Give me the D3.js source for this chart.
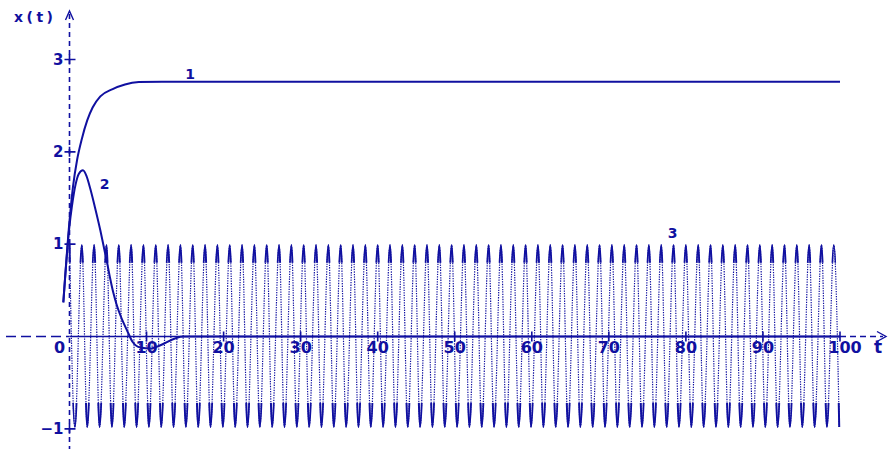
<!DOCTYPE html>
<html>
<head>
<meta charset="utf-8">
<script src="https://cdn.jsdelivr.net/npm/d3@7"></script>
<style>
  body { margin: 0; background: #fff; }
  svg { display: block; }
  text { font-family: 'DejaVu Sans', sans-serif; font-weight: bold; fill: #1010a0; }
</style>
</head>
<body>
<div id="chart"></div>
<script>
// curve 1
var t1 = [-0.8, 0, 0.45, 1.0, 1.6, 2.3, 3.0, 4.0, 5.6, 7.2, 9, 12, 100]
var x1 = [0.37, 1.25, 1.62, 1.92, 2.14, 2.34, 2.48, 2.6, 2.68, 2.73, 2.755, 2.76, 2.76]

// curve 2
var t2 = [-0.8, 0, 0.3, 0.8, 1.2, 1.75, 2.2, 2.7, 3.3, 4.0, 4.5, 4.9, 5.3, 5.7, 6.1, 6.6, 7.0, 7.5, 8.2, 9.2, 10.5, 11.0, 14.8, 100]
var x2 = [0.37, 1.2, 1.4, 1.65, 1.76, 1.8, 1.74, 1.6, 1.4, 1.15, 0.95, 0.79, 0.62, 0.47, 0.35, 0.23, 0.15, 0.06, -0.06, -0.12, -0.13, -0.12, 0, 0]

// curve 3: times of the maxima and minima
var peakT = [0, 1.6, 3.2, 4.8, 6.4, 8.0, 9.6, 11.2, 12.8, 14.4, 16.0, 17.6, 19.2, 20.8, 22.4, 24.0,
  25.6, 27.2, 28.8, 30.4, 32.0, 33.6, 35.2, 36.8, 38.4, 40.0, 41.6, 43.2, 44.8, 46.4, 48.0, 49.6,
  51.2, 52.8, 54.4, 56.0, 57.6, 59.2, 60.8, 62.4, 64.0, 65.6, 67.2, 68.8, 70.4, 72.0, 73.6, 75.2,
  76.8, 78.4, 80.0, 81.6, 83.2, 84.8, 86.4, 88.0, 89.6, 91.2, 92.8, 94.4, 96.0, 97.6, 99.2]
var troughT = [0.7, 2.3, 3.9, 5.5, 7.1, 8.7, 10.3, 11.9, 13.5, 15.1, 16.7, 18.3, 19.9, 21.5, 23.1,
  24.7, 26.3, 27.9, 29.5, 31.1, 32.7, 34.3, 35.9, 37.5, 39.1, 40.7, 42.3, 43.9, 45.5, 47.1, 48.7,
  50.3, 51.9, 53.5, 55.1, 56.7, 58.3, 59.9, 61.5, 63.1, 64.7, 66.3, 67.9, 69.5, 71.1, 72.7, 74.3,
  75.9, 77.5, 79.1, 80.7, 82.3, 83.9, 85.5, 87.1, 88.7, 90.3, 91.9, 93.5, 95.1, 96.7, 98.3, 99.9]
var peakVal = 0.99
var troughVal = -0.98

var xTicks = [0, 10, 20, 30, 40, 50, 60, 70, 80, 90, 100]
var yTicks = [-1, 1, 2, 3]

var width = 891
var height = 449
var color = '#1010a0'

var svg = d3.select('#chart')
  .append('svg')
  .attr('width', width)
  .attr('height', height)

var xScale = d3.scaleLinear().domain([0, 100]).range([69.5, 840])
var yScale = d3.scaleLinear().domain([0, 3]).range([336.5, 59.5])

var x0 = xScale(0)
var y0 = yScale(0)

// pair the arrays up
var curve1 = t1.map((t, i) => ({ t: t, v: x1[i] }))
var curve2 = t2.map((t, i) => ({ t: t, v: x2[i] }))
var curve3 = peakT.map(t => ({ t: t, v: peakVal }))
  .concat(troughT.map(t => ({ t: t, v: troughVal })))
  .sort((a, b) => a.t - b.t)

var line = d3.line()
  .x(d => xScale(d.t))
  .y(d => yScale(d.v))
  .curve(d3.curveMonotoneX)

// thick parts of curve 3 near its extremes
var clip = svg.append('clipPath').attr('id', 'ends')
clip.append('rect')
  .attr('x', 0).attr('width', width)
  .attr('y', yScale(1.02)).attr('height', yScale(0.8) - yScale(1.02))
clip.append('rect')
  .attr('x', 0).attr('width', width)
  .attr('y', yScale(-0.72)).attr('height', yScale(-1.02) - yScale(-0.72))

svg.append('path')
  .datum(curve3)
  .attr('d', line)
  .attr('fill', 'none')
  .attr('stroke', color)
  .attr('stroke-width', 1.2)
  .attr('stroke-dasharray', '1.3,1.2')

svg.append('path')
  .datum(curve3)
  .attr('d', line)
  .attr('fill', 'none')
  .attr('stroke', color)
  .attr('stroke-width', 2)
  .attr('clip-path', 'url(#ends)')

// axes
var axes = svg.append('g').attr('stroke', color).attr('fill', 'none')

axes.append('line')
  .attr('x1', x0).attr('x2', x0)
  .attr('y1', 14).attr('y2', height)
  .attr('stroke-width', 1.6)
  .attr('stroke-dasharray', '5,4')

axes.append('path')
  .attr('d', `M${x0 - 4},${20} L${x0},${11} L${x0 + 4},${20}`)
  .attr('stroke-width', 1.4)

axes.append('line')
  .attr('x1', 6).attr('x2', x0)
  .attr('y1', y0).attr('y2', y0)
  .attr('stroke-width', 1.6)
  .attr('stroke-dasharray', '10,5')

axes.append('line')
  .attr('x1', x0).attr('x2', xScale(100))
  .attr('y1', y0).attr('y2', y0)
  .attr('stroke-width', 1.6)

axes.append('line')
  .attr('x1', xScale(100)).attr('x2', 883)
  .attr('y1', y0).attr('y2', y0)
  .attr('stroke-width', 1.6)
  .attr('stroke-dasharray', '6,4')

axes.append('path')
  .attr('d', `M${877},${y0 - 5} L${886},${y0} L${877},${y0 + 5}`)
  .attr('stroke-width', 1.4)

axes.selectAll('.xtick')
  .data(xTicks.slice(1))
  .enter()
  .append('line')
  .attr('class', 'xtick')
  .attr('x1', d => xScale(d)).attr('x2', d => xScale(d))
  .attr('y1', y0 - 5).attr('y2', y0 + 5)
  .attr('stroke-width', 1.6)

axes.selectAll('.ytick')
  .data(yTicks)
  .enter()
  .append('path')
  .attr('class', 'ytick')
  .attr('d', d => `M${x0 - 5},${yScale(d)} H${x0 + 6} M${x0},${yScale(d) - 5} V${yScale(d) + 5}`)
  .attr('stroke-width', 1.6)

// curves 1 and 2
svg.append('path')
  .datum(curve2)
  .attr('d', line)
  .attr('fill', 'none')
  .attr('stroke', color)
  .attr('stroke-width', 2)

svg.append('path')
  .datum(curve1)
  .attr('d', line)
  .attr('fill', 'none')
  .attr('stroke', color)
  .attr('stroke-width', 2)

// tick labels
svg.selectAll('.xlabel')
  .data(xTicks)
  .enter()
  .append('text')
  .attr('class', 'xlabel')
  .text(d => d)
  .attr('x', d => d === 0 ? xScale(d) - 10 : d === 100 ? xScale(d) + 5 : xScale(d))
  .attr('y', 353)
  .attr('font-size', 16)
  .attr('text-anchor', 'middle')

svg.selectAll('.ylabel')
  .data(yTicks)
  .enter()
  .append('text')
  .attr('class', 'ylabel')
  .text(d => d === -1 ? '\u22121' : d)
  .attr('x', x0 - 6)
  .attr('y', d => yScale(d) + 5)
  .attr('font-size', 15)
  .attr('text-anchor', 'end')

// axis names
svg.append('text')
  .text('x(t)')
  .attr('x', 14)
  .attr('y', 22)
  .attr('font-size', 14)
  .attr('letter-spacing', 3.5)

svg.append('text')
  .text('t')
  .attr('x', 878)
  .attr('y', 353)
  .attr('font-size', 17)
  .attr('text-anchor', 'middle')

// curve numbers
svg.append('text').text('1').attr('x', 190).attr('y', 79).attr('font-size', 14).attr('text-anchor', 'middle')
svg.append('text').text('2').attr('x', 104.5).attr('y', 189).attr('font-size', 14).attr('text-anchor', 'middle')
svg.append('text').text('3').attr('x', 672.5).attr('y', 238).attr('font-size', 14).attr('text-anchor', 'middle')
</script>
</body>
</html>
